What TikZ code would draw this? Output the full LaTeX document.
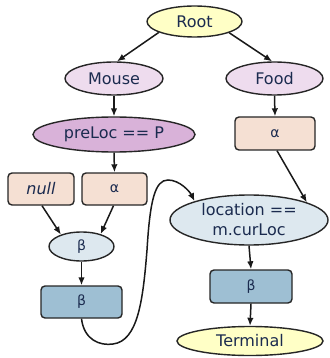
\documentclass[tikz,border=0pt]{standalone}
\usepackage{fontspec}
\setmainfont{DejaVu Sans}
\usetikzlibrary{shapes.geometric,arrows.meta}
\definecolor{txt}{HTML}{1B2B4F}
\definecolor{cyellow}{HTML}{FFFFC6}
\definecolor{clpurple}{HTML}{EEDCEE}
\definecolor{cpurple}{HTML}{D9B2D9}
\definecolor{cpeach}{HTML}{F5E0D3}
\definecolor{clblue}{HTML}{DDE8EF}
\definecolor{csteel}{HTML}{9EBFD3}
\tikzset{
  base/.style={draw=black!85, line width=1.4pt, text=txt, inner sep=0pt,
    font=\fontsize{16}{20}\selectfont},
  ell/.style={base, ellipse},
  rbox/.style={base, rectangle, rounded corners=4pt},
  greek/.style={font=\fontsize{14}{17}\selectfont},
  edge/.style={draw=black!90, line width=1.5pt, -{Latex[length=8pt,width=6.5pt]}}
}
\begin{document}
\begin{tikzpicture}[x=1pt,y=-1pt]
\useasboundingbox (0,0) rectangle (329,358);
\node[ell, fill=cyellow, minimum width=95pt, minimum height=31pt] (root) at (194.5,21.5) {Root};
\node[ell, fill=clpurple, minimum width=98pt, minimum height=33pt] (mouse) at (114,78.5) {Mouse};
\node[ell, fill=clpurple, minimum width=97pt, minimum height=33pt] (food) at (274.5,78.5) {Food};
\node[ell, fill=cpurple, minimum width=162pt, minimum height=35pt] (pre) at (114,134.5) {preLoc == P};
\node[rbox, fill=cpeach, minimum width=80pt, minimum height=33pt, greek] (a2) at (275,133.5) {α};
\node[rbox, fill=cpeach, minimum width=66pt, minimum height=32pt] (nul) at (41,189) {\itshape null};
\node[rbox, fill=cpeach, minimum width=65pt, minimum height=32pt, greek] (a1) at (114.5,189) {α};
\node[ell, fill=clblue, minimum width=65pt, minimum height=29pt, greek] (b1) at (81.5,246.5) {β};
\node[rbox, fill=csteel, minimum width=81pt, minimum height=32pt, greek] (b2) at (81.5,302) {β};
\node[ell, fill=clblue, minimum width=158pt, minimum height=50pt, align=center] (loc) at (249,220) {location ==\\m.curLoc};
\node[rbox, fill=csteel, minimum width=82pt, minimum height=33pt, greek] (b3) at (251,286.5) {β};
\node[ell, fill=cyellow, minimum width=146pt, minimum height=29pt] (term) at (250,341) {Terminal};

\draw[edge] (root.197) -- (mouse.80);
\draw[edge] (root.342) -- (food.98);
\draw[edge] (mouse.south) -- (pre.north);
\draw[edge] (food.south) -- (a2.north);
\draw[edge] (pre.south) -- (a1.north);
\draw[edge] ([xshift=1pt]nul.south) -- (b1.150);
\draw[edge] ([xshift=-1pt]a1.south) -- (b1.33);
\draw[edge] (b1.south) -- (b2.north);
\draw[edge] ([xshift=2pt]a2.south) -- (loc.17);
\draw[edge] (b2.south) .. controls (84,340) and (100,346) .. (113,344)
   .. controls (138,341) and (143,300) .. (147,250)
   .. controls (150,200) and (155,180) .. (168,180)
   .. controls (180,180) and (190,192) .. (loc.161);
\draw[edge] (loc.south) -- (b3.north);
\draw[edge] (b3.south) -- (term.north);
\end{tikzpicture}
\end{document}
